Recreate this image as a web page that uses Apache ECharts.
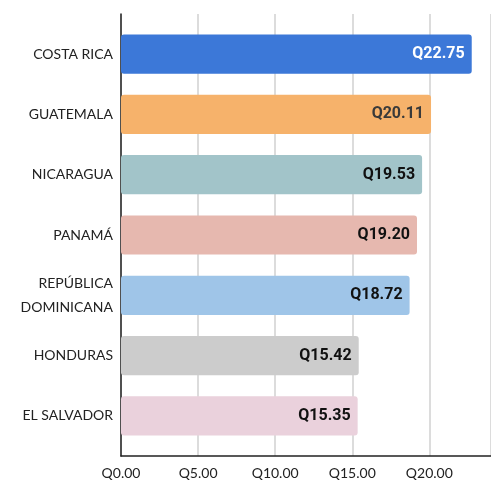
<!DOCTYPE html>
<html><head><meta charset="utf-8">
<script src="https://cdn.jsdelivr.net/npm/echarts@6/dist/echarts.min.js"></script>
<style>html,body{margin:0;padding:0;background:#fff}#c{width:491px;height:481px}</style>
</head><body><div id="c"></div>
<script>
var categories = ['COSTA RICA','GUATEMALA','NICARAGUA','PANAMÁ','REPÚBLICA\nDOMINICANA','HONDURAS','EL SALVADOR'];
var values = [22.75, 20.11, 19.53, 19.20, 18.72, 15.42, 15.35];
var barColors = ['#3c78d8','#f6b26b','#a2c4c9','#e6b8af','#9fc5e8','#cccccc','#ead1dc'];
var labelColors = ['#ffffff','#3a3a3a','#111111','#111111','#111111','#111111','#111111'];
var xTicks = [0,5,10,15,20];
var xMin = 0, xMax = 24, xInterval = 5;

var chart = echarts.init(document.getElementById('c'));
var labelFont = 'Lato';
chart.setOption({
  animation: false,
  grid: [
    {left:121, right:0, top:24, bottom:35, containLabel:false},
    {left:121, right:0, top:14, bottom:25, containLabel:false}
  ],
  xAxis: [
    {gridIndex:0, type:'value', min:xMin, max:xMax, interval:xInterval, show:false},
    {gridIndex:1, type:'value', min:xMin, max:xMax, interval:xInterval,
     axisLine:{show:true, lineStyle:{color:'#222', width:1.5}},
     axisTick:{show:false},
     splitLine:{show:true, lineStyle:{color:'#d0d0d0', width:1.5}},
     axisLabel:{show:true, color:'#222', fontFamily:labelFont, fontSize:14, margin:10,
       showMaxLabel:false,
       formatter:function(v){ return xTicks.indexOf(v)>=0 ? 'Q'+v.toFixed(2) : ''; }}}
  ],
  yAxis: [
    {gridIndex:0, type:'category', data:categories, inverse:true,
     axisLine:{show:false}, axisTick:{show:false}, splitLine:{show:false},
     axisLabel:{color:'#222', fontFamily:labelFont, fontSize:14, margin:8, lineHeight:24, align:'right'}},
    {gridIndex:1, type:'category', data:[''], axisLine:{show:true, onZero:false, lineStyle:{color:'#222', width:1.5}},
     axisTick:{show:false}, axisLabel:{show:false}, splitLine:{show:false}}
  ],
  series: [{
    type:'bar', xAxisIndex:0, yAxisIndex:0, barCategoryGap:'35%',
    data: values.map(function(v,i){
      return {value:v, itemStyle:{color:barColors[i], borderRadius:3},
        label:{color:labelColors[i]}};
    }),
    label:{show:true, position:'insideRight', distance:7, fontFamily:'Roboto', fontWeight:'bold', fontSize:16,
      formatter:function(p){ return 'Q'+p.value.toFixed(2); }}
  }]
});
</script></body></html>
